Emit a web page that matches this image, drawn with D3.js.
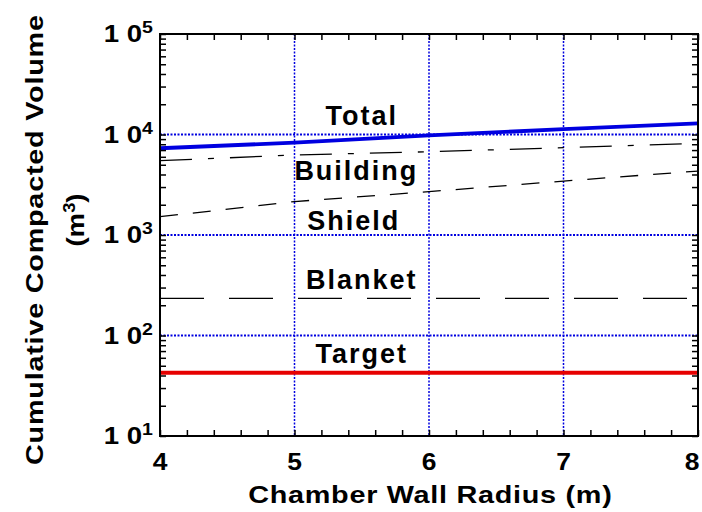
<!DOCTYPE html>
<html>
<head>
<meta charset="utf-8">
<script src="https://cdn.jsdelivr.net/npm/d3@7"></script>
<style>
  body { margin: 0; background: #fff; }
  text { font-family: "Liberation Sans", Arial, sans-serif; font-weight: bold; fill: #000; }
</style>
</head>
<body>
<div id="chart"></div>
<script>
// chart values
const radius = [4, 5, 6, 7, 8];
const totalVol = [7300, 8300, 9800, 11300, 12900];
const buildingVol = [5490, 6250, 6740, 7390, 8170];
const shieldVol = [1520, 2150, 2700, 3440, 4330];
const blanketVol = [234, 234, 234, 234, 234];
const targetVol = [42.6, 42.6, 42.6, 42.6, 42.6];
const seriesNames = ["Total", "Building", "Shield", "Blanket", "Target"];
const xTickLabels = ["4", "5", "6", "7", "8"];
const yDecades = [1, 2, 3, 4, 5];

const chartW = 702, chartH = 512;
const plotL = 160, plotR = 698, plotT = 34, plotB = 436;
const stretch = 1.15; // the reference glyphs are a bit wider than plain Arial

const svg = d3.select("#chart").append("svg")
    .attr("width", chartW)
    .attr("height", chartH);

const x = d3.scaleLinear().domain([4, 8]).range([plotL, plotR]);
const y = d3.scaleLog().domain([10, 1e5]).range([plotB, plotT]);

// grid lines (blue dotted)
svg.append("g").selectAll("line")
    .data([2, 3, 4])
    .enter().append("line")
    .attr("x1", plotL).attr("x2", plotR)
    .attr("y1", d => y(Math.pow(10, d))).attr("y2", d => y(Math.pow(10, d)))
    .style("stroke", "#0000e0")
    .style("stroke-width", 2)
    .style("stroke-dasharray", "2,1.5");

svg.append("g").selectAll("line")
    .data([5, 6, 7])
    .enter().append("line")
    .attr("x1", d => x(d)).attr("x2", d => x(d))
    .attr("y1", plotT).attr("y2", plotB)
    .style("stroke", "#0000e0")
    .style("stroke-width", 1.5)
    .style("stroke-dasharray", "2,1.5");

// series lines
const series = [
  {name: "Total", values: totalVol, color: "#0000e0", w: 3.8, dash: null},
  {name: "Building", values: buildingVol, color: "#000", w: 1.3, dash: "32,16,6,16"},
  {name: "Shield", values: shieldVol, color: "#000", w: 1.3, dash: "18,15"},
  {name: "Blanket", values: blanketVol, color: "#000", w: 1.3, dash: "44,25"},
  {name: "Target", values: targetVol, color: "#e60000", w: 4, dash: null}
];

const line = d3.line()
    .x((d, i) => x(radius[i]))
    .y(d => y(d));

svg.append("g").selectAll("path")
    .data(series)
    .enter().append("path")
    .attr("d", d => line(d.values))
    .style("fill", "none")
    .style("stroke", d => d.color)
    .style("stroke-width", d => d.w)
    .style("stroke-dasharray", d => d.dash);

// series labels
const labelX = [5.5, 5.46, 5.44, 5.5, 5.5];
const labelBase = [125, 180, 230, 289, 363];
svg.append("g").selectAll("text")
    .data(seriesNames)
    .enter().append("text")
    .attr("x", (d, i) => x(labelX[i]))
    .attr("y", (d, i) => labelBase[i])
    .attr("text-anchor", "middle")
    .style("font-size", "27px")
    .style("letter-spacing", "2px")
    .text(d => d);

// ticks, all pointing inward
const minorX = d3.range(4, 8.001, 0.2);
const minorY = [];
yDecades.slice(0, 4).forEach(p => {
  for (let k = 1; k < 10; k++) minorY.push(k * Math.pow(10, p));
});
minorY.push(1e5);

function styleAxis(g) {
  g.select(".domain").remove();
  g.selectAll(".tick line").style("stroke", "#000").style("stroke-width", 1.5);
  g.selectAll(".tick text").remove();
}

svg.append("g").attr("transform", `translate(0,${plotB})`)
    .call(d3.axisBottom(x).tickValues(minorX).tickSize(-6)).call(styleAxis);
svg.append("g").attr("transform", `translate(0,${plotT})`)
    .call(d3.axisTop(x).tickValues(minorX).tickSize(-6)).call(styleAxis);
svg.append("g").attr("transform", `translate(${plotL},0)`)
    .call(d3.axisLeft(y).tickValues(minorY).tickSize(-6)).call(styleAxis);
svg.append("g").attr("transform", `translate(${plotR},0)`)
    .call(d3.axisRight(y).tickValues(minorY).tickSize(-6)).call(styleAxis);

// frame
svg.append("rect")
    .attr("x", plotL).attr("y", plotT)
    .attr("width", plotR - plotL).attr("height", plotB - plotT)
    .style("fill", "none")
    .style("stroke", "#000")
    .style("stroke-width", 2);

// x tick labels (last one pulled in a little so it stays on the page)
svg.append("g").selectAll("text")
    .data(xTickLabels)
    .enter().append("text")
    .attr("transform", (d, i) => {
      let px = x(+d);
      if (i === xTickLabels.length - 1) px -= 6;
      return `translate(${px},${plotB + 34}) scale(${stretch},1)`;
    })
    .attr("text-anchor", "middle")
    .style("font-size", "23px")
    .text(d => d);

// y tick labels: "1 0" with superscript power
const yLab = svg.append("g").selectAll("g")
    .data(yDecades)
    .enter().append("g");
yLab.append("text")
    .attr("transform", d => `translate(142,${y(Math.pow(10, d)) + 8}) scale(${stretch},1)`)
    .attr("text-anchor", "end")
    .style("font-size", "24px")
    .text("1 0");
yLab.append("text")
    .attr("transform", d => `translate(142,${y(Math.pow(10, d)) - 1}) scale(${stretch},1)`)
    .style("font-size", "17px")
    .text(d => d);

// axis titles
svg.append("text")
    .attr("transform", "translate(430,503) scale(1.2,1)")
    .attr("text-anchor", "middle")
    .attr("textLength", 303)
    .attr("lengthAdjust", "spacing")
    .style("font-size", "24px")
    .text("Chamber Wall Radius (m)");

svg.append("text")
    .attr("transform", "translate(43,240) rotate(-90) scale(1.2,1)")
    .attr("text-anchor", "middle")
    .attr("textLength", 375)
    .attr("lengthAdjust", "spacing")
    .style("font-size", "24px")
    .text("Cumulative Compacted Volume");

const unit = svg.append("text")
    .attr("transform", "translate(84,220) rotate(-90) scale(1.15,1)")
    .attr("text-anchor", "middle")
    .style("font-size", "24px");
unit.append("tspan").text("(m");
unit.append("tspan").attr("dy", -9).style("font-size", "16px").text("3");
unit.append("tspan").attr("dy", 9).text(")");
</script>
</body>
</html>
